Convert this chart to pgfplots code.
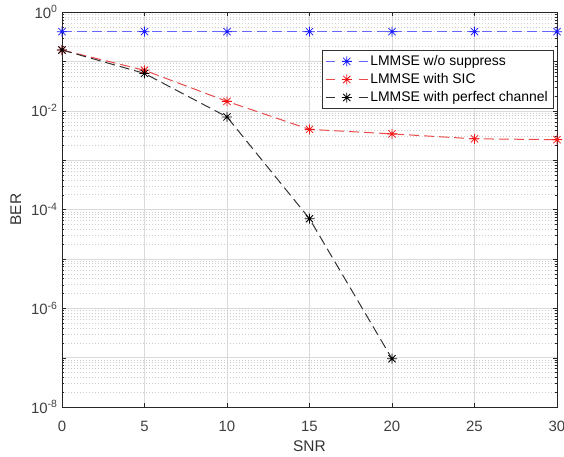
\documentclass[border=0pt]{standalone}
\usepackage{fontspec}
\setmainfont{Liberation Sans}
\usepackage{pgfplots}
\pgfplotsset{compat=1.18}
\usetikzlibrary{calc}

% MATLAB-like '*' marker: plus overlaid with a cross
\pgfdeclareplotmark{mstar}{%
  \pgfpathmoveto{\pgfqpoint{-\pgfplotmarksize}{0pt}}\pgfpathlineto{\pgfqpoint{\pgfplotmarksize}{0pt}}%
  \pgfpathmoveto{\pgfqpoint{0pt}{-\pgfplotmarksize}}\pgfpathlineto{\pgfqpoint{0pt}{\pgfplotmarksize}}%
  \pgfpathmoveto{\pgfqpoint{-.72\pgfplotmarksize}{-.72\pgfplotmarksize}}\pgfpathlineto{\pgfqpoint{.72\pgfplotmarksize}{.72\pgfplotmarksize}}%
  \pgfpathmoveto{\pgfqpoint{-.72\pgfplotmarksize}{.72\pgfplotmarksize}}\pgfpathlineto{\pgfqpoint{.72\pgfplotmarksize}{-.72\pgfplotmarksize}}%
  \pgfusepathqstroke}

\definecolor{mblue}{RGB}{25,25,255}
\definecolor{mred}{RGB}{245,20,20}
\definecolor{lred}{RGB}{235,75,75}
\definecolor{lblack}{RGB}{50,50,50}
\definecolor{mgrid}{RGB}{218,218,218}

\tikzset{
  ser/.style={line width=1pt, dash pattern=on 10bp off 5bp, mark=mstar, mark size=5bp},
}

\begin{document}
\begin{tikzpicture}
\begin{semilogyaxis}[
  scale only axis, width=495bp, height=395bp,
  xmin=0, xmax=30, ymin=1e-8, ymax=1,
  xtick={0,5,...,30},
  ytick={1e-8,1e-7,1e-6,1e-5,1e-4,1e-3,1e-2,1e-1,1},
  yticklabels={10\textsuperscript{-8},,10\textsuperscript{-6},,10\textsuperscript{-4},,10\textsuperscript{-2},,10\textsuperscript{0}},
  xticklabel style={/pgf/number format/assume math mode=true, yshift=-11bp},
  yticklabel style={xshift=-1bp},
  tick label style={font=\fontsize{15}{17}\selectfont, text=black!75},
  xlabel={SNR}, ylabel={BER},
  label style={font=\fontsize{15.5}{18}\selectfont, text=black!80},
  xlabel style={yshift=-2bp},
  ylabel style={yshift=3bp},
  axis line style={black!85, line width=0.6pt},
  tick style={black!85},
  tick align=inside, major tick length=4bp, minor tick length=2bp,
  grid=both,
  major grid style={mgrid, line width=0.5pt},
  minor grid style={black!20, line width=0.4pt, dash pattern=on 1bp off 2bp},
  minor x tick num=0,
  legend style={at={(0.992,0.903)}, anchor=north east, draw=black!80, line width=0.5pt,
    font=\fontsize{14}{16}\selectfont, row sep=2.5bp, inner xsep=3bp, inner ysep=3bp,
    cells={anchor=west}},
  legend image code/.code={%
    \draw[solid] (0bp,0bp)--(9bp,0bp);
    \draw[solid] (33bp,0bp)--(42bp,0bp);
    \draw[only marks] plot coordinates {(21bp,0bp)};},
]
\addplot[ser, color=blue!60, mark options={solid, draw=mblue, line width=0.8pt}] coordinates {(0,0.40)(5,0.40)(10,0.40)(15,0.40)(20,0.40)(25,0.40)(30,0.40)};
\addlegendentry{LMMSE w/o suppress}
\addplot[ser, color=lred, mark options={solid, draw=mred, line width=0.8pt}] coordinates {(0,0.17)(5,0.066)(10,0.0155)(15,0.0042)(20,0.0034)(25,0.0027)(30,0.0026)};
\addlegendentry{LMMSE with SIC}
\addplot[ser, color=lblack, mark options={solid, draw=black, line width=0.8pt}] coordinates {(0,0.17)(5,0.057)(10,0.0075)(15,6.5e-5)(20,9.5e-8)};
\addlegendentry{LMMSE with perfect channel}
\end{semilogyaxis}
\pgfresetboundingbox
\path[use as bounding box] ($(current axis.south west)+(-62bp,-50bp)$) rectangle ($(current axis.north east)+(7bp,12bp)$);
\end{tikzpicture}
\end{document}
